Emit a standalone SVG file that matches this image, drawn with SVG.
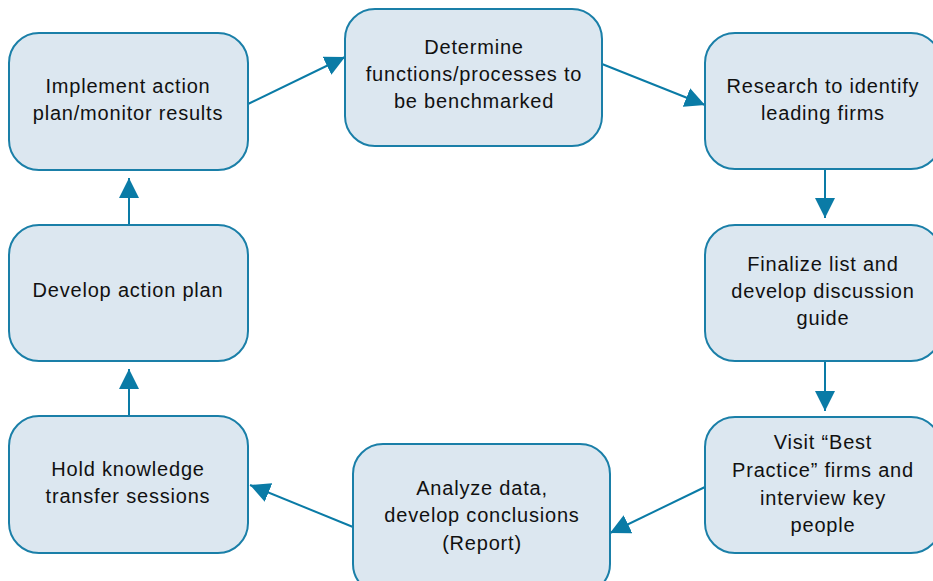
<svg xmlns="http://www.w3.org/2000/svg" width="933" height="581" viewBox="0 0 933 581">
<style>
.box{fill:#dce7f0;stroke:#1a7fa8;stroke-width:2}
.t{font-family:"Liberation Sans",Arial,sans-serif;font-size:20px;letter-spacing:0.8px;fill:#111;text-anchor:middle}
.c{stroke:#0a7ba6;stroke-width:2;fill:none;marker-end:url(#ah)}
</style>
<defs>
<marker id="ah" markerUnits="userSpaceOnUse" markerWidth="20" markerHeight="20" refX="20" refY="10" orient="auto" viewBox="0 0 20 20">
<path d="M0,0 L20,10 L0,20 Z" fill="#0a7ba6"/>
</marker>
</defs>
<rect width="933" height="581" fill="#fff"/>
<g id="connectors">
<line class="c" x1="248" y1="104" x2="345" y2="57"/>
<line class="c" x1="602" y1="64" x2="705" y2="105"/>
<line class="c" x1="825" y1="169" x2="825" y2="218"/>
<line class="c" x1="825" y1="361" x2="825" y2="411"/>
<line class="c" x1="705" y1="487" x2="610" y2="533"/>
<line class="c" x1="353" y1="527" x2="250" y2="485"/>
<line class="c" x1="129" y1="416" x2="129" y2="369"/>
<line class="c" x1="129" y1="225" x2="129" y2="178"/>
</g>
<g id="implement">
<rect class="box" x="9" y="33" width="239" height="137" rx="30"/>
<text class="t" x="128" y="93">Implement action</text>
<text class="t" x="128" y="120">plan/monitor results</text>
</g>
<g id="determine">
<rect class="box" x="345" y="9" width="257" height="137" rx="30"/>
<text class="t" x="474" y="54">Determine</text>
<text class="t" x="474" y="81">functions/processes to</text>
<text class="t" x="474" y="108">be benchmarked</text>
</g>
<g id="research">
<rect class="box" x="705" y="33" width="236" height="136" rx="30"/>
<text class="t" x="823" y="93">Research to identify</text>
<text class="t" x="823" y="120">leading firms</text>
</g>
<g id="finalize">
<rect class="box" x="705" y="225" width="236" height="136" rx="30"/>
<text class="t" x="823" y="271">Finalize list and</text>
<text class="t" x="823" y="298">develop discussion</text>
<text class="t" x="823" y="325">guide</text>
</g>
<g id="visit">
<rect class="box" x="705" y="417" width="236" height="136" rx="30"/>
<text class="t" x="823" y="449">Visit “Best</text>
<text class="t" x="823" y="477">Practice” firms and</text>
<text class="t" x="823" y="505">interview key</text>
<text class="t" x="823" y="532">people</text>
</g>
<g id="analyze">
<rect class="box" x="353" y="444" width="257" height="150" rx="30"/>
<text class="t" x="482" y="495">Analyze data,</text>
<text class="t" x="482" y="522">develop conclusions</text>
<text class="t" x="482" y="550">(Report)</text>
</g>
<g id="hold">
<rect class="box" x="9" y="416" width="239" height="137" rx="30"/>
<text class="t" x="128" y="476">Hold knowledge</text>
<text class="t" x="128" y="503">transfer sessions</text>
</g>
<g id="develop">
<rect class="box" x="9" y="225" width="239" height="136" rx="30"/>
<text class="t" x="128" y="297">Develop action plan</text>
</g>
</svg>
